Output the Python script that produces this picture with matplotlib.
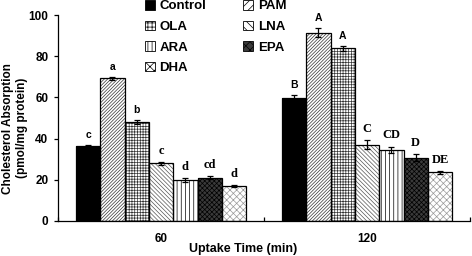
import numpy as np
import matplotlib
matplotlib.use('Agg')
import matplotlib.pyplot as plt

# data
groups = ['60', '120']
series = ['Control', 'PAM', 'OLA', 'LNA', 'ARA', 'EPA', 'DHA']
vals_60 = [36.2, 69.2, 48.2, 28.0, 19.9, 20.9, 17.1]
vals_120 = [59.7, 91.5, 83.8, 37.0, 34.5, 30.8, 23.6]
err_60 = [0.5, 0.6, 1.0, 0.8, 0.9, 0.7, 0.5]
err_120 = [1.4, 2.2, 1.2, 2.2, 1.6, 1.6, 0.7]
lab_60 = ['c', 'a', 'b', 'c', 'd', 'cd', 'd']
lab_120 = ['B', 'A', 'A', 'C', 'CD', 'D', 'DE']

faces = ['black', 'white', 'white', 'white', 'white', '#3a3a3a', 'white']
hatches = [None, '//////////', '++++++', '\\\\\\\\\\\\\\\\', '||||', 'xxxxxxx', 'xxxxx']
hatch_cols = ['black', '#333333', '#333333', '#555555', 'black', 'black', '#999999']

plt.rcParams['font.family'] = ['Liberation Sans', 'DejaVu Sans']
plt.rcParams['font.weight'] = 'bold'
plt.rcParams['hatch.linewidth'] = 0.5

fig = plt.figure(figsize=(4.72, 2.56), dpi=100)
ax = fig.add_axes([0.123, 0.137, 0.873, 0.804])

w = 0.118
vals = np.array([vals_60, vals_120])
errs = np.array([err_60, err_120])
labs = [lab_60, lab_120]
centers = np.array([0.5, 1.5])

handles = []
for i, s in enumerate(series):
    x = centers + (i - 3) * w
    # hatch layer
    ax.bar(x, vals[:, i], w, color=faces[i], edgecolor=hatch_cols[i],
           hatch=hatches[i], linewidth=0, zorder=2)
    # outline
    ax.bar(x, vals[:, i], w, color='none', edgecolor='black', linewidth=0.9, zorder=3)
    ax.errorbar(x, vals[:, i], yerr=errs[:, i], fmt='none', ecolor='black',
                elinewidth=0.9, capsize=2.2, capthick=0.9, zorder=4)
    for g in range(2):
        txt = labs[g][i]
        if i < 3:
            fam, fs = ['Liberation Sans'], 7.5
        else:
            fam, fs = ['Liberation Serif'], 9
        ax.text(x[g], vals[g, i] + errs[g, i] + 2.5, txt, ha='center', va='bottom',
                fontsize=fs, fontweight='bold', family=fam)
    h = ax.bar([0], [0], 0, color=faces[i], edgecolor='black',
               hatch=(hatches[i][:4] if hatches[i] else None), linewidth=0.6)
    handles.append(h)

ax.set_xlim(0, 2)
ax.set_ylim(0, 100)
ax.set_yticks([0, 20, 40, 60, 80, 100])
ax.set_xticks([0, 1, 2])
ax.set_xticklabels([])
ax.tick_params(axis='x', which='major', direction='in', length=3, width=0.9)
ax.set_xticks(centers, minor=True)
ax.set_xticklabels(groups, minor=True)
ax.tick_params(axis='x', which='minor', length=0, pad=9, labelsize=8.5)
ax.tick_params(axis='y', direction='out', length=3, width=0.9, labelsize=8.5, pad=4)
for lbl in ax.get_xticklabels(minor=True) + ax.get_yticklabels():
    lbl.set_fontweight('bold')

ax.spines['top'].set_visible(False)
ax.spines['right'].set_visible(False)
ax.spines['left'].set_linewidth(0.9)
ax.spines['bottom'].set_linewidth(0.9)

ax.set_xlabel('Uptake Time (min)', fontsize=9, fontweight='bold')
ax.xaxis.set_label_coords(0.45, -0.105)
ax.set_ylabel('Cholesterol Absorption\n(pmol/mg protein)', fontsize=8.5,
              fontweight='bold', linespacing=1.2)
ax.yaxis.set_label_coords(-0.074, 0.45)

order = [0, 2, 4, 6, 1, 3, 5]
leg = ax.legend([handles[k] for k in order], [series[k] for k in order], ncol=2,
                loc='upper left', bbox_to_anchor=(0.185, 1.125), frameon=False,
                fontsize=9.5, handlelength=0.75, handleheight=0.75, handletextpad=0.35,
                columnspacing=2.8, labelspacing=0.62, borderpad=0.3)
for t in leg.get_texts():
    t.set_fontweight('bold')

fig.savefig('out.png', dpi=100)
